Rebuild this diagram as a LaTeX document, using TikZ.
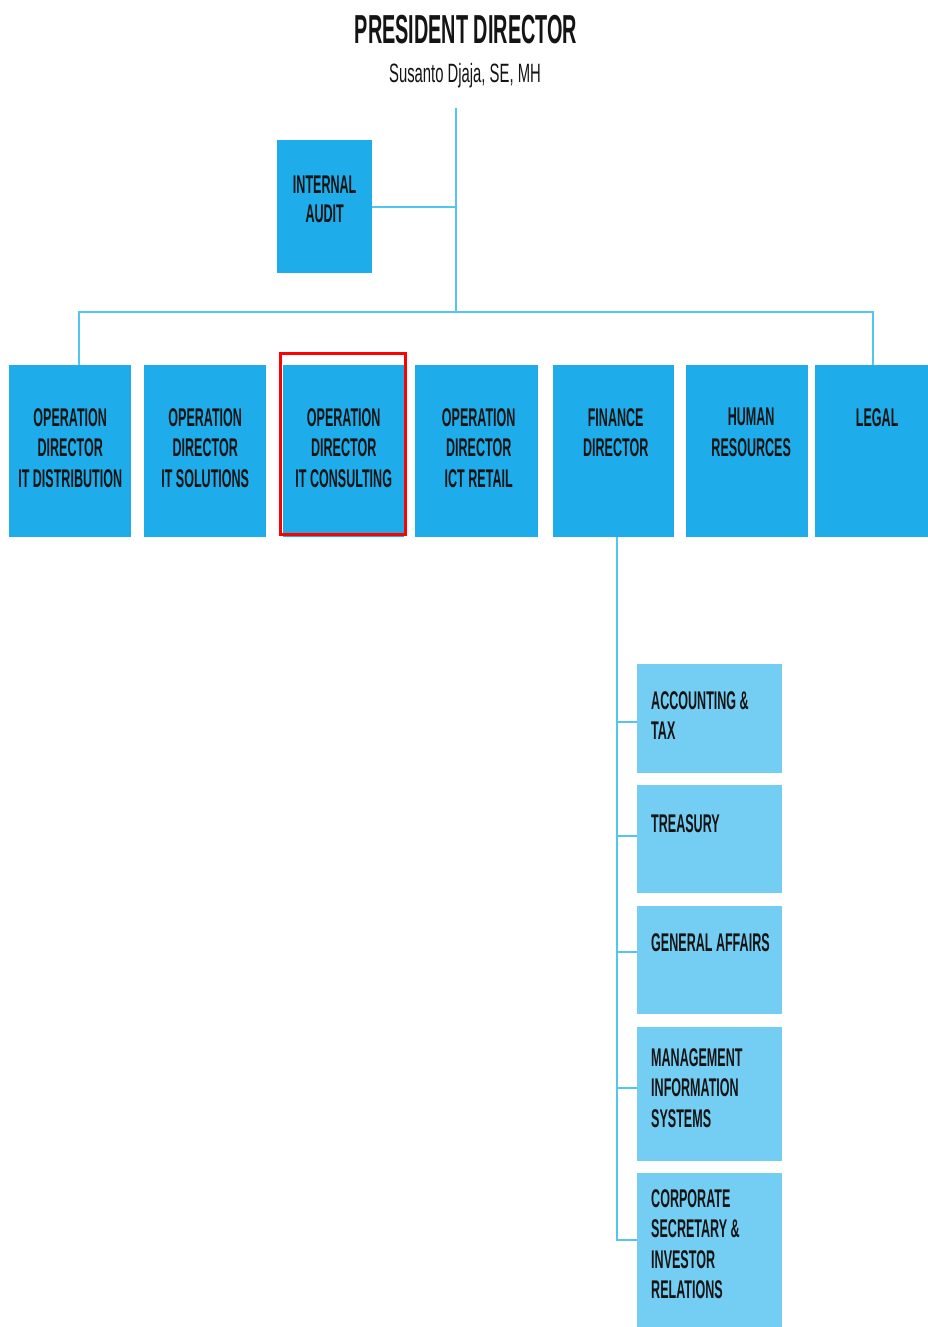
\documentclass[tikz,border=0pt]{standalone}
\usepackage{fontspec}
\usetikzlibrary{positioning}
\newfontfamily\dinfont[FakeStretch=0.49]{Liberation Sans}
\newfontfamily\dinlight[FakeStretch=0.56]{Liberation Sans}
\definecolor{topblue}{RGB}{30,173,234}
\definecolor{subblue}{RGB}{116,206,243}
\definecolor{lineblue}{RGB}{84,196,240}
\definecolor{inkgray}{RGB}{20,20,20}

\tikzset{
  topbox/.style={fill=topblue, anchor=north west, inner sep=0pt, minimum height=172pt},
  subbox/.style={fill=subblue, anchor=north west, inner sep=0pt, minimum width=145pt},
  boxtext/.style={font=\dinfont\bfseries\fontsize{25.6}{30.5}\selectfont, text=inkgray, align=center, inner sep=0pt},
  subtext/.style={boxtext, align=left},
  link/.style={draw=lineblue, line width=2.2pt},
  redframe/.style={draw=red, line width=3pt},
}

\begin{document}
\begin{tikzpicture}[x=1pt, y=-1pt]
    \useasboundingbox (0,0) rectangle (928,1327);

    % president
    \node[font=\dinfont\bfseries\fontsize{40.5}{40.5}\selectfont, text=inkgray, anchor=base] (pres) at (466,44) {PRESIDENT DIRECTOR};
    \node[font=\dinlight\fontsize{26.5}{26.5}\selectfont, text=inkgray, anchor=base] (presname) at (465,83) {Susanto Djaja, SE, MH};
    \coordinate (prestop) at (456,108);
    \coordinate (bus) at (456,312);

    % internal audit
    \node[topbox, minimum width=95pt, minimum height=133pt] (audit) at (277,140) {};
    \node[boxtext, below=36pt of audit.north, font=\dinfont\bfseries\fontsize{25.6}{29}\selectfont] (audittxt) {INTERNAL\\AUDIT};

    % directors
    \node[topbox, minimum width=122pt] (opdist) at (9,365) {};
    \node[topbox, minimum width=122pt] (opsol) at (144,365) {};
    \node[topbox, minimum width=121pt] (opcons) at (283,365) {};
    \node[topbox, minimum width=123pt] (opict) at (415,365) {};
    \node[topbox, minimum width=121pt] (finance) at (553,365) {};
    \node[topbox, minimum width=122pt] (hr) at (686,365) {};
    \node[topbox, minimum width=124pt] (legal) at (815,365) {};

    \node[boxtext, below=43pt of opdist.north] (opdisttxt) {OPERATION\\DIRECTOR\\IT DISTRIBUTION};
    \node[boxtext, below=43pt of opsol.north] (opsoltxt) {OPERATION\\DIRECTOR\\IT SOLUTIONS};
    \node[boxtext, below=43pt of opcons.north] (opconstxt) {OPERATION\\DIRECTOR\\IT CONSULTING};
    \node[boxtext, below=43pt of opict.north, xshift=2pt] (opicttxt) {OPERATION\\DIRECTOR\\ICT RETAIL};
    \node[boxtext, below=43pt of finance.north, xshift=2pt] (financetxt) {FINANCE\\DIRECTOR};
    \node[boxtext, below=43pt of hr.north, xshift=4pt] (hrtxt) {HUMAN\\RESOURCES};
    \node[boxtext, below=43pt of legal.north] (legaltxt) {LEGAL};

    \draw[redframe] ([shift={(-2.5,-11.5)}]opcons.north west) rectangle ([shift={(1.5,-2.5)}]opcons.south east);

    % finance units
    \node[subbox, minimum height=109pt] (acct) at (637,664) {};
    \node[subbox, minimum height=108pt] (treas) at (637,785) {};
    \node[subbox, minimum height=108pt] (genaff) at (637,906) {};
    \node[subbox, minimum height=134pt] (mis) at (637,1027) {};
    \node[subbox, minimum height=160pt] (corpsec) at (637,1173) {};

    \node[subtext, below right=27pt and 14pt of acct.north west] (accttxt) {ACCOUNTING \&\\TAX};
    \node[subtext, below right=29pt and 14pt of treas.north west] (treastxt) {TREASURY};
    \node[subtext, below right=27pt and 14pt of genaff.north west] (genafftxt) {GENERAL AFFAIRS};
    \node[subtext, below right=21pt and 14pt of mis.north west] (mistxt) {MANAGEMENT\\INFORMATION\\SYSTEMS};
    \node[subtext, below right=16pt and 14pt of corpsec.north west] (corpsectxt) {CORPORATE\\SECRETARY \&\\INVESTOR\\RELATIONS};

    % connectors
    \draw[link] (prestop) -- (bus);
    \draw[link] (audit.east) -- (audit.east -| bus);
    \draw[link] ([xshift=9pt]opdist.north) |- (bus) -| ([xshift=-4pt]legal.north);

    \coordinate (finspine) at ([xshift=3.5pt]finance.south);
    \draw[link] (finspine) |- ([yshift=13pt]corpsec.west);
    \foreach \nm/\dy in {acct/-3.5, treas/3, genaff/8, mis/6} {
        \coordinate (\nm-in) at ([yshift=\dy pt]\nm.west);
        \draw[link] (\nm-in) -- (\nm-in -| finspine);
    }

\end{tikzpicture}
\end{document}
